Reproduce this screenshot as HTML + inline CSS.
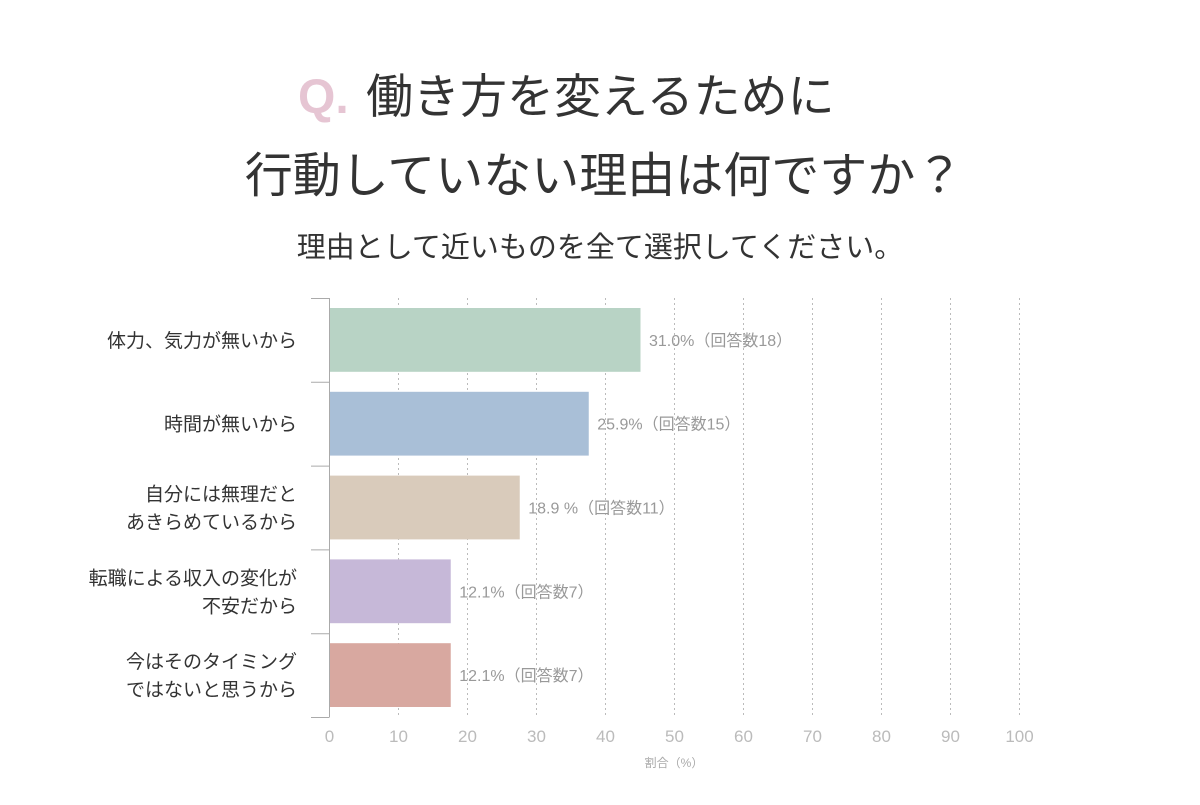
<!DOCTYPE html>
<html><head><meta charset="utf-8">
<style>
body{margin:0;background:#fff;width:1200px;height:800px;overflow:hidden;font-family:"Liberation Sans","Noto Sans CJK JP",sans-serif;}
</style></head>
<body>
<svg width="1200" height="800" xmlns="http://www.w3.org/2000/svg" style="font-family:'Liberation Sans','Noto Sans CJK JP',sans-serif">
<text x="298" y="113" font-size="48" fill="#e6c5d3" font-weight="bold">Q.</text>
<text x="366" y="113" font-size="47" fill="#333">働き方を変えるために</text>
<text x="604" y="192" font-size="48" fill="#333" text-anchor="middle">行動していない理由は何ですか？</text>
<text x="600" y="257" font-size="29" fill="#333" text-anchor="middle">理由として近いものを全て選択してください。</text>
<g id="grid"></g>
<g id="bars"></g>
<text x="674" y="767" font-size="12" fill="#aaa" text-anchor="middle">割合（%）</text>
</svg>
<script>
const categories=[["体力、気力が無いから"],["時間が無いから"],["自分には無理だと","あきらめているから"],["転職による収入の変化が","不安だから"],["今はそのタイミング","ではないと思うから"]];
const values=[45,37.5,27.5,17.5,17.5];
const valueLabels=["31.0%（回答数18）","25.9%（回答数15）","18.9 %（回答数11）","12.1%（回答数7）","12.1%（回答数7）"];
const colors=["#b8d3c5","#a9bfd7","#d9cbbb","#c6b8d8","#d8a8a0"];
const ticks=[0,10,20,30,40,50,60,70,80,90,100];
const NS="http://www.w3.org/2000/svg";
const x0=329.5,x1=1019.5,yTop=298,yBottom=717;
const xs=v=>x0+(v/100)*(x1-x0);
const bandH=(yBottom-yTop)/categories.length;
const ys=i=>yTop+i*bandH;
function mk(t,a,p){const e=document.createElementNS(NS,t);for(const k in a)e.setAttribute(k,a[k]);p.appendChild(e);return e;}
const g=document.getElementById('grid'),b=document.getElementById('bars');
ticks.forEach(t=>{
 if(t>0){const l=mk('line',{x1:xs(t),x2:xs(t),y1:yTop,y2:yBottom,stroke:'#bbb','stroke-dasharray':'2,3'},g);
 
 }
 const tx=mk('text',{x:xs(t),y:742,'font-size':17,fill:'#bbb','text-anchor':'middle'},g);tx.textContent=t;
 
 
});
const ax=mk('line',{x1:x0,x2:x0,y1:yTop,y2:yBottom,stroke:'#aaa'},g);


for(let i=0;i<=categories.length;i++){const tk=mk('line',{x1:311,x2:x0,y1:ys(i)+0.5,y2:ys(i)+0.5,stroke:'#aaa'},g);
 
 }
categories.forEach((c,i)=>{
 const by=ys(i)+10,bh=bandH-20;
 const r=mk('rect',{x:x0+0.5,y:by,width:xs(values[i])-x0,height:bh,fill:colors[i]},b);
 
 
 const vl=mk('text',{x:xs(values[i])+9,y:by+bh/2+6,'font-size':16,fill:'#999'},b);vl.textContent=valueLabels[i];
 
 
 const cy=ys(i)+bandH/2;
 c.forEach((line,j)=>{
  const yy=cy+7+(j-(c.length-1)/2)*28;
  const t=mk('text',{x:297,y:yy,'font-size':19,fill:'#333','text-anchor':'end'},b);t.textContent=line;
  
  
 });
});
</script>
</body></html>
